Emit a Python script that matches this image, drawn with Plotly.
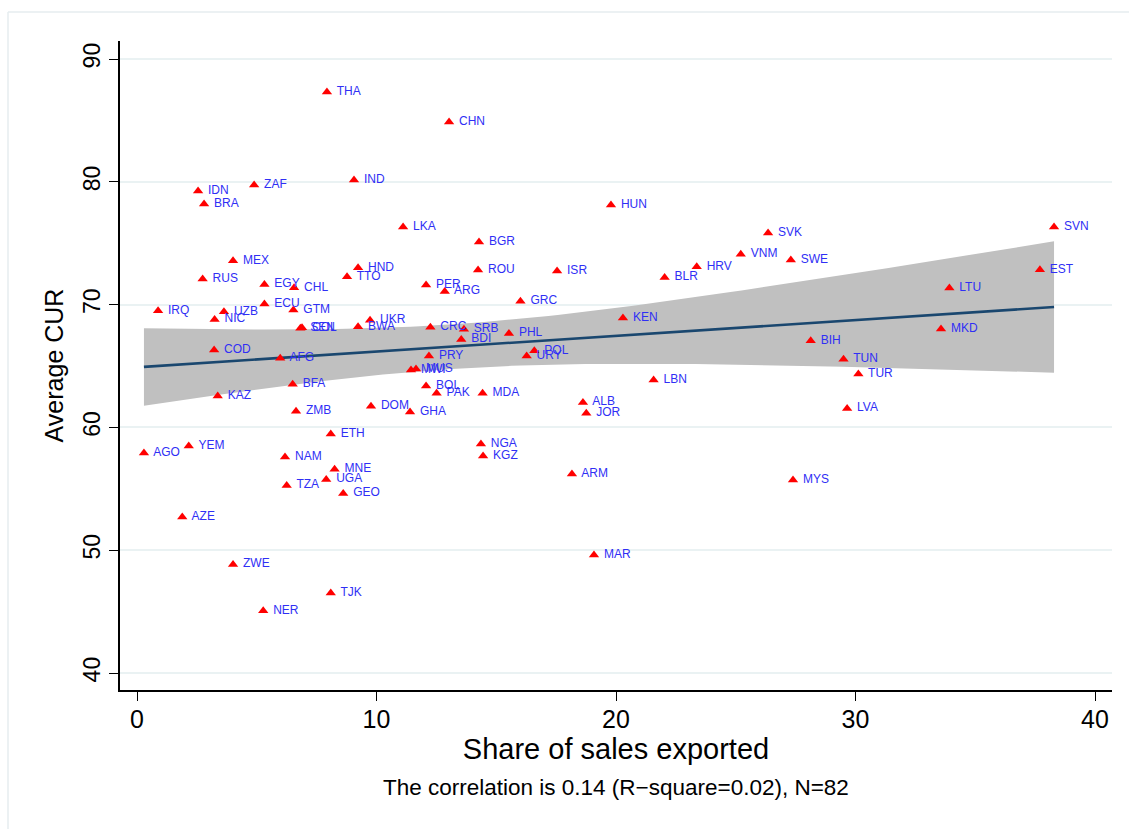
import numpy as np
import plotly.graph_objects as go

# Country codes, share of sales exported (%) and average capacity utilisation rate
codes = ["THA", "CHN", "IND", "ZAF", "IDN", "BRA", "HUN", "LKA", "SVK", "SVN",
         "BGR", "VNM", "MEX", "SWE", "HND", "HRV", "ROU", "ISR", "EST", "TTO",
         "RUS", "BLR", "EGY", "PER", "CHL", "ARG", "LTU", "GRC", "IRQ", "ECU",
         "GTM", "UZB", "NIC", "KEN", "UKR", "BWA", "COL", "SEN", "CRC", "SRB",
         "MKD", "PHL", "BDI", "BIH", "COD", "POL", "URY", "AFG", "PRY", "TUN",
         "MWI", "MUS", "TUR", "LBN", "BFA", "BOL", "PAK", "MDA", "KAZ", "ALB",
         "DOM", "LVA", "ZMB", "GHA", "JOR", "ETH", "NGA", "YEM", "AGO", "KGZ",
         "NAM", "MNE", "ARM", "UGA", "MYS", "TZA", "GEO", "AZE", "MAR", "ZWE",
         "TJK", "NER"]

export_share = [7.93, 13.03, 9.06, 4.89, 2.55, 2.80, 19.79, 11.11, 26.35, 38.29,
                14.28, 25.21, 4.01, 27.30, 9.23, 23.37, 14.24, 17.54, 37.70, 8.77,
                2.74, 22.03, 5.32, 12.07, 6.56, 12.85, 33.92, 16.01, 0.88, 5.32,
                6.53, 3.63, 3.24, 20.29, 9.73, 9.23, 6.89, 6.82, 12.25, 13.65,
                33.57, 15.53, 13.54, 28.13, 3.22, 16.59, 16.27, 5.98, 12.19, 29.50,
                11.44, 11.65, 30.12, 21.57, 6.50, 12.07, 12.51, 14.43, 3.37, 18.62,
                9.77, 29.65, 6.64, 11.40, 18.76, 8.09, 14.36, 2.16, 0.29, 14.45,
                6.18, 8.25, 18.16, 7.90, 27.39, 6.25, 8.61, 1.89, 19.08, 4.01,
                8.09, 5.27]

avg_cur = [87.31, 84.87, 80.15, 79.74, 79.25, 78.19, 78.11, 76.32, 75.83, 76.32,
           75.10, 74.10, 73.57, 73.63, 73.00, 73.09, 72.82, 72.74, 72.84, 72.27,
           72.08, 72.22, 71.65, 71.60, 71.38, 71.08, 71.35, 70.27, 69.50, 70.05,
           69.56, 69.42, 68.80, 68.91, 68.72, 68.20, 68.12, 68.07, 68.15, 67.99,
           68.01, 67.66, 67.17, 67.06, 66.30, 66.25, 65.81, 65.63, 65.81, 65.55,
           64.67, 64.76, 64.35, 63.86, 63.51, 63.37, 62.78, 62.78, 62.56, 62.04,
           61.72, 61.55, 61.31, 61.25, 61.15, 59.46, 58.65, 58.49, 57.92, 57.67,
           57.59, 56.59, 56.21, 55.77, 55.72, 55.28, 54.63, 52.70, 49.61, 48.85,
           46.51, 45.07]

x_ticks = [0, 10, 20, 30, 40]
y_ticks = [40, 50, 60, 70, 80, 90]
caption = "The correlation is 0.14 (R\u2212square=0.02), N=82"

# Linear fit with 95% confidence band for the mean prediction
x = np.array(export_share)
y = np.array(avg_cur)
n = len(x)
slope, intercept = np.polyfit(x, y, 1)
resid = y - (intercept + slope * x)
s = np.sqrt(np.sum(resid ** 2) / (n - 2))
sxx = np.sum((x - x.mean()) ** 2)
t_crit = 1.990  # t(0.975, df=80)
xg = np.linspace(x.min(), x.max(), 100)
yg = intercept + slope * xg
se = s * np.sqrt(1.0 / n + (xg - x.mean()) ** 2 / sxx)
upper = yg + t_crit * se
lower = yg - t_crit * se

font = "Liberation Sans, Arial, Helvetica, sans-serif"

fig = go.Figure()
fig.add_trace(go.Scatter(
    x=np.concatenate([xg, xg[::-1]]), y=np.concatenate([upper, lower[::-1]]),
    fill="toself", fillcolor="rgb(192,192,192)", line=dict(width=0),
    mode="lines", hoverinfo="skip", showlegend=False))
fig.add_trace(go.Scatter(
    x=xg, y=yg, mode="lines", line=dict(color="#1a476f", width=2.6),
    hoverinfo="skip", showlegend=False))
fig.add_trace(go.Scatter(
    x=export_share, y=avg_cur, mode="markers+text", text=codes,
    texttemplate=" %{text}", textposition="middle right",
    textfont=dict(family=font, size=12, color="#2f2ff5"),
    marker=dict(symbol="triangle-up", size=9, color="#ff0000",
                line=dict(width=0)),
    showlegend=False))

fig.update_layout(
    width=1129, height=829,
    margin=dict(l=120, r=17, t=41, b=139),
    paper_bgcolor="white", plot_bgcolor="white",
    xaxis=dict(
        range=[-0.71, 40.71], tickvals=x_ticks, ticks="outside", ticklen=9,
        tickwidth=1.3, tickcolor="black", showline=True, linecolor="black",
        linewidth=1.5, showgrid=False, zeroline=False, ticklabelstandoff=-3,
        tickfont=dict(family=font, size=25, color="black"),
        title=dict(text="Share of sales exported", standoff=4,
                   font=dict(family=font, size=29, color="black"))),
    yaxis=dict(
        range=[38.62, 91.47], tickvals=y_ticks, ticks="outside", ticklen=9,
        tickwidth=1.3, tickcolor="black", showline=True, linecolor="black",
        linewidth=1.5, showgrid=True, gridcolor="#eaf2f3", gridwidth=2,
        zeroline=False, tickangle=-90,
        tickfont=dict(family=font, size=23, color="black"),
        title=dict(text="Average CUR", standoff=8,
                   font=dict(family=font, size=25, color="black"))),
    annotations=[dict(
        text=caption, xref="paper", yref="paper", x=0.5, y=-0.151,
        xanchor="center", yanchor="middle", showarrow=False,
        font=dict(family=font, size=22.5, color="black"))],
    shapes=[
        dict(type="line", xref="paper", yref="paper", x0=-0.1129, x1=1.02,
             y0=1.0447, y1=1.0447, line=dict(color="#e6ecef", width=1.5)),
        dict(type="line", xref="paper", yref="paper", x0=-0.1129, x1=-0.1129,
             y0=1.0447, y1=-0.22, line=dict(color="#e6ecef", width=1.5)),
    ],
)

fig.write_html("out.html")
